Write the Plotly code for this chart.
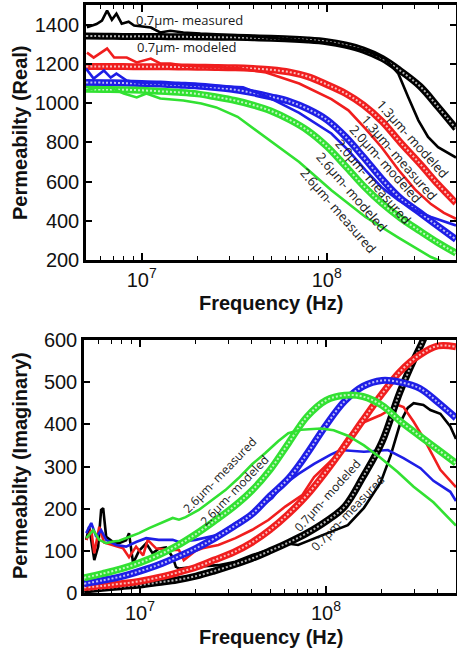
import numpy as np
import plotly.graph_objects as go

# ---------------------------------------------------------------- data
# frequency grid (Hz) shared by the modeled curves
FREQ_GRID = [5.0e6, 6.3e6, 7.9e6, 1.0e7, 1.26e7, 1.58e7, 2.0e7, 2.5e7, 3.2e7, 4.0e7,
             5.0e7, 6.3e7, 7.9e7, 1.0e8, 1.26e8, 1.58e8, 2.0e8, 2.5e8, 3.2e8, 4.0e8, 5.0e8]

# real part, modeled
REAL_MOD_07 = [1342, 1341, 1340, 1340, 1339, 1338, 1337, 1336, 1335, 1333, 1330,
               1327, 1322, 1313, 1296, 1270, 1227, 1165, 1085, 980, 870]
REAL_MOD_13 = [1186, 1186, 1186, 1185, 1185, 1184, 1183, 1182, 1180, 1176, 1170,
               1158, 1135, 1095, 1050, 990, 905, 800, 690, 585, 490]
REAL_MOD_20 = [1105, 1104, 1102, 1100, 1097, 1092, 1087, 1079, 1068, 1052, 1032,
               1008, 970, 915, 830, 725, 610, 515, 440, 372, 305]
REAL_MOD_26 = [1070, 1069, 1068, 1065, 1060, 1055, 1047, 1032, 1013, 990, 960,
               915, 860, 780, 680, 578, 487, 415, 347, 288, 235]

# real part, measured
REAL_MEAS_07_F = [5.06e6, 5.7e6, 6.1e6, 6.5e6, 6.9e6, 7.3e6, 7.8e6, 8.5e6, 9.1e6, 1.12e7,
                  1.26e7, 1.43e7, 1.68e7, 2.08e7, 3.53e7, 7.1e7, 1.06e8, 1.62e8, 2.07e8,
                  2.44e8, 2.76e8, 3.13e8, 3.53e8, 4.0e8, 5.0e8]
REAL_MEAS_07 = [1386, 1403, 1420, 1471, 1425, 1456, 1405, 1415, 1395, 1385,
                1360, 1369, 1360, 1354, 1344, 1322, 1305, 1268, 1227,
                1150, 1030, 912, 827, 775, 722]
REAL_MEAS_13_F = [5.06e6, 5.5e6, 6.5e6, 7.1e6, 8.3e6, 9.4e6, 1.12e7, 1.26e7, 1.43e7, 1.68e7,
                  3.3e7, 4.7e7, 7.1e7, 1.06e8, 1.31e8, 1.62e8, 1.98e8, 2.44e8, 3.0e8,
                  3.66e8, 4.3e8, 5.0e8]
REAL_MEAS_13 = [1257, 1232, 1278, 1232, 1232, 1207, 1227, 1202, 1202, 1191,
                1178, 1156, 1100, 1020, 963, 870, 775, 660, 560,
                485, 440, 410]
REAL_MEAS_20_F = [5.0e6, 5.5e6, 6.25e6, 6.8e6, 7.3e6, 8.3e6, 9.4e6, 1.36e7, 3.53e7, 4.7e7,
                  7.1e7, 1.06e8, 1.31e8, 1.62e8, 1.98e8, 2.44e8, 3.0e8, 3.66e8, 5.0e8]
REAL_MEAS_20 = [1176, 1125, 1166, 1130, 1150, 1115, 1105, 1100, 1080, 1035,
                950, 845, 759, 658, 571, 505, 454, 419, 376]
REAL_MEAS_26_F = [5.0e6, 5.7e6, 6.8e6, 8.0e6, 9.4e6, 1.06e7, 1.26e7, 1.68e7, 2.1e7, 2.53e7,
                  3.3e7, 4.7e7, 7.1e7, 1.06e8, 1.62e8, 2.44e8, 3.66e8, 4.5e8]
REAL_MEAS_26 = [1064, 1079, 1079, 1049, 1029, 1049, 1023, 1013, 998, 978,
                930, 826, 700, 556, 419, 314, 215, 180]

# imaginary part, modeled
IMAG_MOD_07 = [7, 11, 15, 19, 25, 31, 40, 52, 67, 82, 100,
               120, 142, 170, 205, 275, 358, 477, 583, 660, 650]
IMAG_MOD_13 = [13, 17, 22, 28, 37, 48, 61, 78, 97, 120, 150,
               188, 232, 288, 348, 410, 472, 525, 565, 586, 584]
IMAG_MOD_20 = [22, 30, 39, 52, 67, 85, 106, 129, 158, 187, 230,
               272, 330, 398, 455, 490, 504, 500, 485, 452, 415]
IMAG_MOD_26 = [36, 46, 57, 72, 90, 112, 140, 170, 205, 243, 292,
               356, 418, 457, 469, 466, 445, 408, 372, 340, 308]

# imaginary part, measured
IMAG_MEAS_07_F = [5.14e6, 5.33e6, 5.68e6, 5.96e6, 6.18e6, 6.34e6, 6.58e6, 7.17e6, 7.73e6, 8.42e6,
                  8.73e6, 9.18e6, 9.88e6, 1.08e7, 1.17e7, 1.26e7, 1.38e7, 1.50e7, 1.56e7, 1.62e7,
                  1.99e7, 2.64e7, 3.26e7, 4.02e7, 4.90e7, 6.04e7, 7.08e7, 8.63e7, 1.06e8, 1.31e8,
                  1.60e8, 1.97e8, 2.23e8, 2.52e8, 2.75e8, 2.96e8, 3.34e8, 3.64e8, 4.12e8, 4.66e8, 5.0e8]
IMAG_MEAS_07 = [126, 157, 78, 110, 197, 201, 133, 121, 118, 125,
                142, 71, 100, 118, 94, 105, 108, 85, 62, 58,
                62, 66, 74, 90, 102, 118, 114, 130, 145, 161,
                202, 263, 327, 406, 439, 450, 446, 434, 425, 395, 365]
IMAG_MEAS_13_F = [5.14e6, 5.47e6, 5.68e6, 6.04e6, 6.41e6, 7.17e6, 8.11e6, 8.73e6, 9.53e6, 1.04e7,
                  1.10e7, 1.22e7, 1.43e7, 1.62e7, 1.72e7, 1.99e7, 2.17e7, 2.64e7, 3.26e7, 4.02e7,
                  4.90e7, 6.04e7, 7.45e7, 8.63e7, 1.10e8, 1.31e8, 1.60e8, 1.97e8, 2.43e8, 2.61e8,
                  2.96e8, 3.34e8, 4.12e8, 5.0e8]
IMAG_MEAS_13 = [126, 149, 94, 157, 120, 114, 106, 85, 110, 89,
                126, 106, 102, 102, 78, 100, 106, 114, 130, 150,
                173, 205, 232, 275, 320, 370, 405, 422, 446, 441,
                406, 368, 292, 251]
IMAG_MEAS_20_F = [5.14e6, 5.47e6, 5.82e6, 6.18e6, 6.58e6, 7.45e6, 8.42e6, 9.53e6, 1.08e7, 1.26e7,
                  1.50e7, 1.62e7, 1.99e7, 2.64e7, 3.26e7, 4.02e7, 5.14e7, 5.74e7, 7.08e7, 8.63e7,
                  1.06e8, 1.20e8, 1.60e8, 2.15e8, 2.61e8, 3.22e8, 3.78e8, 4.66e8, 5.0e8]
IMAG_MEAS_20 = [142, 166, 133, 149, 126, 114, 110, 121, 130, 126,
                126, 121, 126, 138, 166, 190, 225, 252, 282, 306,
                328, 339, 335, 339, 320, 296, 266, 240, 218]
IMAG_MEAS_26_F = [5.14e6, 5.61e6, 6.04e6, 6.58e6, 7.17e6, 7.73e6, 8.73e6, 9.88e6, 1.12e7, 1.33e7,
                  1.50e7, 1.62e7, 1.76e7, 2.07e7, 2.46e7, 2.88e7, 3.38e7, 4.02e7, 4.72e7, 5.53e7,
                  6.27e7, 7.35e7, 9.40e7, 1.10e8, 1.31e8, 1.60e8, 1.97e8, 2.43e8, 2.96e8, 3.78e8, 5.0e8]
IMAG_MEAS_26 = [130, 149, 126, 118, 122, 124, 133, 142, 154, 169,
                178, 174, 180, 197, 221, 244, 272, 306, 332, 360,
                379, 387, 390, 386, 373, 350, 320, 287, 252, 215, 160]

X_TICKS = [1e7, 1e8]
X_TICK_TEXT = ["10<sup>7</sup>", "10<sup>8</sup>"]
X_MINOR = [6e6, 7e6, 8e6, 9e6, 2e7, 3e7, 4e7, 5e7, 6e7, 7e7, 8e7, 9e7, 2e8, 3e8, 4e8]

BLACK, RED, BLUE, GREEN = "#000000", "#f01e1e", "#1e1ee6", "#32e132"

# ---------------------------------------------------------------- figure
W, H = 457, 653
fig = go.Figure()


def add_modeled(y, color, xa, ya):
    # dense open-circle look: thick coloured band with a light dotted core
    fig.add_trace(go.Scatter(x=FREQ_GRID, y=y, mode="lines", xaxis=xa, yaxis=ya,
                             line=dict(color=color, width=7, shape="spline"),
                             showlegend=False, hoverinfo="skip"))
    fig.add_trace(go.Scatter(x=FREQ_GRID, y=y, mode="lines", xaxis=xa, yaxis=ya,
                             line=dict(color="rgba(255,255,255,0.7)", width=2,
                                       dash="2px,2px", shape="spline"),
                             showlegend=False, hoverinfo="skip"))


def add_measured(f, y, color, xa, ya):
    fig.add_trace(go.Scatter(x=f, y=y, mode="lines", xaxis=xa, yaxis=ya,
                             line=dict(color=color, width=2.6),
                             showlegend=False, hoverinfo="skip"))


# top panel: real permeability
add_modeled(REAL_MOD_07, BLACK, "x", "y")
add_modeled(REAL_MOD_13, RED, "x", "y")
add_modeled(REAL_MOD_20, BLUE, "x", "y")
add_modeled(REAL_MOD_26, GREEN, "x", "y")
add_measured(REAL_MEAS_07_F, REAL_MEAS_07, BLACK, "x", "y")
add_measured(REAL_MEAS_13_F, REAL_MEAS_13, RED, "x", "y")
add_measured(REAL_MEAS_20_F, REAL_MEAS_20, BLUE, "x", "y")
add_measured(REAL_MEAS_26_F, REAL_MEAS_26, GREEN, "x", "y")

# bottom panel: imaginary permeability
add_measured(IMAG_MEAS_07_F, IMAG_MEAS_07, BLACK, "x2", "y2")
add_measured(IMAG_MEAS_13_F, IMAG_MEAS_13, RED, "x2", "y2")
add_measured(IMAG_MEAS_20_F, IMAG_MEAS_20, BLUE, "x2", "y2")
add_modeled(IMAG_MOD_07, BLACK, "x2", "y2")
add_modeled(IMAG_MOD_13, RED, "x2", "y2")
add_modeled(IMAG_MOD_20, BLUE, "x2", "y2")
add_modeled(IMAG_MOD_26, GREEN, "x2", "y2")
add_measured(IMAG_MEAS_26_F, IMAG_MEAS_26, GREEN, "x2", "y2")

tick_font = dict(family="Liberation Sans, Arial, sans-serif", size=20, color="#111111")
frame = dict(showline=True, linewidth=2.5, linecolor="black", mirror="ticks",
             ticks="inside", tickwidth=1.5, tickcolor="black", showgrid=False,
             zeroline=False, tickfont=tick_font, automargin=False)

xcommon = dict(type="log", range=[np.log10(5e6), np.log10(5e8)],
               tickvals=X_TICKS, ticktext=X_TICK_TEXT, ticklen=7,
               minor=dict(tickvals=X_MINOR, ticks="inside", ticklen=4,
                          tickwidth=1.2, tickcolor="black", showgrid=False),
               **frame)

fig.update_layout(
    width=W, height=H, margin=dict(l=0, r=0, t=0, b=0, autoexpand=False),
    paper_bgcolor="white", plot_bgcolor="white", showlegend=False,
    xaxis=dict(domain=[86 / W, 456 / W], anchor="y", **xcommon),
    yaxis=dict(domain=[1 - 260 / H, 1 - 5 / H], anchor="x", range=[200, 1500],
               tick0=200, dtick=200, ticklen=6, **frame),
    xaxis2=dict(domain=[84 / W, 456 / W], anchor="y2", **xcommon),
    yaxis2=dict(domain=[1 - 593 / H, 1 - 340 / H], anchor="x2", range=[0, 600],
                tick0=0, dtick=100, ticklen=6, **frame),
)

title_font = dict(family="Liberation Sans, Arial, sans-serif", size=20, color="#111111")
label_font = dict(family="Open Sans, sans-serif", size=13, color="#1a1a1a")
label_font_s = dict(family="Open Sans, sans-serif", size=12, color="#1a1a1a")


def px_note(text, x, y, font, angle=0, bold=False):
    fig.add_annotation(text=f"<b>{text}</b>" if bold else text,
                       x=x / W, y=1 - y / H, xref="paper", yref="paper",
                       showarrow=False, textangle=angle, font=font,
                       xanchor="center", yanchor="middle")


# axis titles
px_note("Permeabilty (Real)", 20, 133, title_font, angle=-90, bold=True)
px_note("Frequency (Hz)", 271, 303, title_font, bold=True)
px_note("Permeabilty (Imaginary)", 20, 466, title_font, angle=-90, bold=True)
px_note("Frequency (Hz)", 271, 637, title_font, bold=True)

# curve labels, real part
px_note("0.7µm- measured", 189, 20, label_font)
px_note("0.7µm- modeled", 187, 47, label_font)
px_note("1.3µm- modeled", 413, 139, label_font, angle=48)
px_note("1.3µm- measured", 399, 157, label_font, angle=49)
px_note("2.0µm- modeled", 386, 164, label_font, angle=48)
px_note("2.0µm- measured", 373, 181, label_font, angle=49)
px_note("2.6µm- modeled", 352, 192, label_font, angle=49)
px_note("2.6µm- measured", 338, 210, label_font, angle=49)

# curve labels, imaginary part
px_note("2.6µm- measured", 219, 475, label_font_s, angle=-46)
px_note("2.6µm- modeled", 234, 490, label_font_s, angle=-46)
px_note("0.7µm- modeled", 327, 495, label_font_s, angle=-48)
px_note("0.7µm- measured", 347, 513, label_font_s, angle=-46)

fig.write_html("out.html")
